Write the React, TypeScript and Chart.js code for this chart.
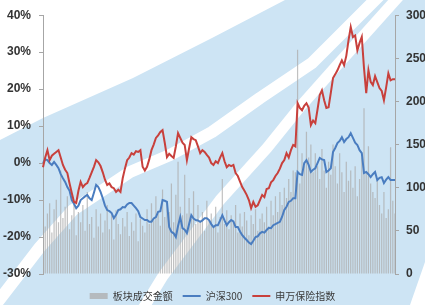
import React, { useEffect, useRef } from "react";
import { Chart, registerables } from "chart.js";

Chart.register(...registerables);

// 申万保险指数 (%), left axis
const insuranceIndex = [
  -1.1, 1.5, 3.5, 0.8, 2.0, 2.5, 3.0, 3.5, 1.5, -0.5,
  -1.8, -2.7, -5.5, -8.1, -10.5, -10.8, -7.5, -5.1, -6.5, -5.8,
  -5.4, -4.0, -2.5, -1.0, 0.8, 0.2, -0.8, -2.5, -4.5, -5.9,
  -5.5, -6.5, -6.8, -7.8, -7.2, -7.8, -4.1, -1.5, 0.8, 1.5,
  2.7, 2.3, 3.2, 3.0, 3.5, -1.0, -2.0, -1.0, 1.0, 3.5,
  5.0, 6.8, 7.5, 8.4, 8.9, 5.5, 1.6, 2.5, 1.9, 1.4,
  4.5, 8.1, 6.8, 5.5, 4.9, 0.8, 4.0, 7.0, 6.5, 6.2,
  4.5, 2.7, 3.5, 3.0, 2.2, 1.5, 0.0, -0.5, 0.5, 0.0,
  1.5, 2.7, 0.5, -1.1, -0.5, -0.8, -0.5, -2.7, -3.5, -5.0,
  -6.5, -7.5, -8.6, -10.0, -12.2, -10.5, -11.8, -11.4, -10.0, -8.6,
  -9.2, -7.0, -6.8, -5.2, -4.6, -3.5, -2.7, -1.5, 0.0, 0.8,
  2.7, 1.5, 3.5, 4.9, 4.5, 16.2, 14.9, 14.3, 15.5, 16.2,
  15.0, 10.3, 11.5, 10.8, 14.5, 18.4, 19.7, 17.0, 14.9, 15.1,
  19.0, 23.0, 24.0, 25.1, 26.5, 27.8, 26.5, 29.0, 33.2, 36.8,
  34.1, 34.5, 30.5, 32.5, 34.1, 25.7, 18.9, 25.1, 22.0, 21.1,
  23.5, 21.9, 20.3, 19.5, 17.0, 20.5, 24.3, 22.4, 22.7, 22.7,
];

// 沪深300 (%), left axis
const hs300 = [
  0.0, 1.0, 0.8, 0.0, -0.5, 0.3, -0.5, -1.4, -3.0, -4.1,
  -5.1, -6.5, -7.5, -10.0, -11.0, -12.2, -11.5, -10.0, -9.5, -9.0,
  -8.6, -9.5, -10.0, -8.0, -5.9, -6.5, -7.8, -9.5, -11.5, -12.7,
  -13.0, -13.5, -14.9, -14.0, -12.7, -12.5, -11.9, -12.0, -11.2, -10.8,
  -10.8, -11.5, -12.2, -13.0, -14.6, -15.0, -15.4, -15.4, -15.9, -15.9,
  -15.0, -14.6, -13.2, -13.0, -10.0, -10.2, -10.5, -17.3, -18.6, -19.0,
  -20.0, -17.0, -14.6, -17.6, -18.0, -18.9, -16.5, -14.1, -15.0, -15.4,
  -15.5, -15.9, -15.5, -14.9, -14.9, -15.4, -16.5, -17.3, -16.8, -16.8,
  -15.5, -14.1, -15.5, -16.8, -16.0, -15.4, -15.8, -17.3, -17.3, -18.5,
  -19.5, -20.2, -20.8, -21.5, -21.9, -21.0, -20.0, -19.8, -19.0, -18.6,
  -18.8, -18.1, -17.5, -17.6, -16.8, -16.5, -16.2, -15.9, -14.5, -12.7,
  -11.8, -10.5, -10.2, -9.5, -9.5, -2.4, -3.0, -3.2, 0.0, 0.8,
  -0.5, -2.4, -1.8, -1.4, 0.0, 1.4, 1.0, 0.8, -2.4, -2.0,
  -1.4, 3.0, 4.1, 5.4, 6.0, 7.0, 5.7, 6.5, 7.0, 8.1,
  6.8, 5.5, 4.9, 3.5, 2.7, -2.7, -2.4, -3.0, -3.8, -3.0,
  -2.4, -4.6, -4.0, -3.8, -5.4, -4.5, -3.8, -4.6, -4.6, -4.6,
];

// 板块成交金额, right axis
const turnover = [
  88, 55, 70, 82, 48, 75, 86, 60, 120, 65,
  78, 90, 52, 68, 85, 45, 72, 60, 80, 50,
  95, 58, 66, 42, 75, 55, 70, 48, 62, 80,
  52, 68, 40, 74, 58, 46, 65, 55, 72, 44,
  60, 50, 70, 38, 64, 56, 48, 75, 58, 82,
  62, 90, 70, 56, 98, 66, 85, 72, 105, 60,
  92, 130, 78, 68, 115, 70, 88, 64, 96, 58,
  80, 60, 72, 50, 85, 62, 70, 55, 78, 48,
  66, 110, 58, 74, 52, 68, 60, 80, 48, 70,
  55, 72, 62, 45, 68, 58, 75, 50, 64, 70,
  60, 78, 55, 85, 68, 90, 72, 95, 80, 100,
  88, 110, 95, 120, 118, 260, 105, 140, 125, 165,
  135, 150, 118, 140, 125, 110, 145, 120, 100, 130,
  115, 150, 125, 105, 140, 118, 95, 130, 108, 120,
  100, 125, 90, 110, 135, 192, 118, 148, 105, 95,
  88, 110, 80, 70, 95, 65, 75, 147, 85, 70,
];

const categories = turnover.map((_, i) => String(i + 1));

const leftTicks = { min: -30, max: 40, step: 10 };
const rightTicks = { min: 0, max: 300, step: 50 };

const seriesNames = ["板块成交金额", "沪深300", "申万保险指数"];

const backgroundPlugin = {
  id: "decorBackground",
  beforeDraw(chart: any) {
    const { ctx, width, height } = chart;
    const sx = width / 425;
    const sy = height / 305;
    const P = (x: number, y: number): [number, number] => [x * sx, y * sy];
    ctx.save();
    ctx.fillStyle = "#cde4f4";
    ctx.fillRect(0, 0, width, height);
    ctx.fillStyle = "#ffffff";
    const region = [P(0, 0), P(285, 0), P(212, 38), P(133, 78), P(43, 118), P(0, 140)];
    ctx.beginPath();
    region.forEach(([x, y], i) => (i ? ctx.lineTo(x, y) : ctx.moveTo(x, y)));
    ctx.closePath();
    ctx.fill();
    const wedge = [P(410, 305), P(425, 262), P(425, 305)];
    ctx.beginPath();
    wedge.forEach(([x, y], i) => (i ? ctx.lineTo(x, y) : ctx.moveTo(x, y)));
    ctx.closePath();
    ctx.fill();
    ctx.strokeStyle = "#ffffff";
    ctx.lineJoin = "round";
    ctx.lineCap = "round";
    const bands: [number, [number, number][]][] = [
      [12, [P(-10, 312), P(40, 247), P(73, 210), P(130, 172), P(170, 155), P(212, 132), P(260, 98), P(312, 63), P(380, -5)]],
      [11, [P(130, 330), P(163, 276), P(220, 200), P(267, 148), P(300, 107), P(340, 62), P(400, -5)]],
    ];
    bands.forEach(([w, pts]) => {
      ctx.lineWidth = w;
      ctx.beginPath();
      pts.forEach(([x, y], i) => (i ? ctx.lineTo(x, y) : ctx.moveTo(x, y)));
      ctx.stroke();
    });
    ctx.restore();
  },
};

export default function App() {
  const ref = useRef<HTMLCanvasElement | null>(null);
  useEffect(() => {
    if (!ref.current) return;
    const tickFont = { family: "Liberation Sans", size: 12, weight: "bold" as const };
    const chart = new Chart(ref.current, {
      type: "bar",
      data: {
        labels: categories,
        datasets: [
          {
            type: "bar",
            label: seriesNames[0],
            data: turnover,
            yAxisID: "y1",
            backgroundColor: "rgba(172,172,172,0.75)",
            borderWidth: 0,
            barPercentage: 0.55,
            categoryPercentage: 1,
            pointStyle: "rect",
            order: 3,
          } as any,
          {
            type: "line",
            label: seriesNames[1],
            data: hs300,
            yAxisID: "y",
            borderColor: "#4a7dc0",
            backgroundColor: "#4a7dc0",
            borderWidth: 2,
            pointRadius: 0,
            pointStyle: "line",
            tension: 0,
            order: 2,
          } as any,
          {
            type: "line",
            label: seriesNames[2],
            data: insuranceIndex,
            yAxisID: "y",
            borderColor: "#c8403c",
            backgroundColor: "#c8403c",
            borderWidth: 2,
            pointRadius: 0,
            pointStyle: "line",
            tension: 0,
            order: 1,
          } as any,
        ],
      },
      options: {
        responsive: false,
        animation: false,
        layout: { padding: { top: 15, left: 0, right: 0, bottom: -6 } },
        plugins: {
          tooltip: { enabled: false },
          legend: {
            position: "bottom",
            align: "center",
            labels: {
              usePointStyle: true,
              pointStyleWidth: 18,
              boxWidth: 18,
              boxHeight: 6,
              padding: 10,
              color: "#3a3a3a",
              font: { family: "Noto Sans CJK SC", size: 10 },
              sort: (a: any, b: any) => a.datasetIndex - b.datasetIndex,
            },
          },
        },
        scales: {
          x: {
            type: "category",
            offset: false,
            display: true,
            grid: { display: false },
            border: { display: false },
            ticks: { display: false },
            afterFit: (s: any) => {
              s.height = 7;
            },
          },
          y: {
            position: "left",
            min: leftTicks.min,
            max: leftTicks.max,
            ticks: {
              stepSize: leftTicks.step,
              color: "#333333",
              font: tickFont,
              padding: 8,
              callback: (v: any) => `${v}%`,
            },
            grid: { drawOnChartArea: false, drawTicks: true, tickLength: 4, color: "#a6a6a6" },
            border: { display: true, color: "#a6a6a6" },
            afterFit: (s: any) => {
              s.width = 43;
            },
          },
          y1: {
            position: "right",
            min: rightTicks.min,
            max: rightTicks.max,
            ticks: {
              stepSize: rightTicks.step,
              color: "#333333",
              font: tickFont,
              padding: 7,
            },
            grid: { drawOnChartArea: false, drawTicks: true, tickLength: 4, color: "#a6a6a6" },
            border: { display: true, color: "#a6a6a6" },
            afterFit: (s: any) => {
              s.width = 30;
            },
          },
        },
      },
      plugins: [backgroundPlugin],
    });
    return () => chart.destroy();
  }, []);
  return (
    <div style={{ position: "fixed", left: 0, top: 0, width: 425, height: 305 }}>
      <canvas ref={ref} width={425} height={305} style={{ display: "block" }} />
    </div>
  );
}
